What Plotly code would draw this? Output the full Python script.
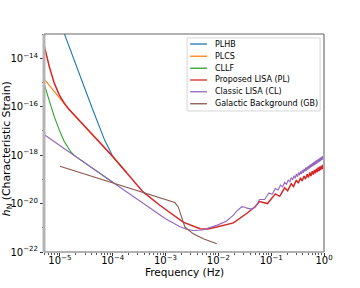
import plotly.graph_objects as go

# ---------------- data (frequency in Hz, strain given as log10 exponents) -------------
series_names = ["PLHB", "PLCS", "CLLF", "Proposed LISA (PL)", "Classic LISA (CL)",
                "Galactic Background (GB)"]
series_colors = ["#1f77b4", "#ff7f0e", "#2ca02c", "#d62728", "#9467bd", "#8c564b"]

plhb_freq = [1.0e-5, 1.216e-5, 2.35e-5, 4.21e-5, 7.03e-5, 9.4e-5, 1.01e-4, 1.81e-4]
plhb_exp = [-12.5, -13.0, -14.62, -16.14, -17.38, -17.98, -18.07, -18.70]

plcs_freq = [5e-6, 1.469e-5, 1.01e-4, 1.81e-4]
plcs_exp = [-14.85, -16.10, -18.07, -18.70]

cllf_freq = [5e-6, 6.31e-6, 7.85e-6, 9.77e-6, 1.216e-5, 1.63e-5, 1.89e-5, 1.0e-4]
cllf_exp = [-15.05, -15.8, -16.42, -16.97, -17.45, -17.88, -18.02, -19.12]

pl_freq = [5e-6, 6.31e-6, 7.85e-6, 9.77e-6, 1.216e-5, 1.469e-5, 1.01e-4, 1.81e-4,
           3.75e-4, 7.8e-4, 1.05e-3, 1.87e-3, 2.16e-3, 4.49e-3, 6.3e-3, 9.33e-3,
           0.0193, 0.0347, 0.050,
           0.06, 0.085, 0.12, 0.145, 0.18, 0.205, 0.24, 0.265, 0.30, 0.325, 0.36, 0.385,
           0.42, 0.445, 0.48, 0.505, 0.54, 0.565, 0.60, 0.625, 0.66, 0.685, 0.72, 0.745,
           0.78, 0.805, 0.84, 0.865, 0.90, 0.925, 0.96, 0.985, 1.0]
pl_exp = [-13.45, -14.35, -15.04, -15.52, -15.86, -16.10, -18.07, -18.70,
          -19.52, -20.07, -20.28, -20.65, -20.77, -21.04, -21.05, -20.97,
          -20.80, -20.40, -20.12,
          -19.92, -20.0, -19.6, -19.7, -19.35, -19.47, -19.18, -19.3, -19.03, -19.16,
          -18.94, -19.07, -18.86, -18.99, -18.79, -18.92, -18.72, -18.86, -18.66, -18.80,
          -18.61, -18.75, -18.56, -18.70, -18.51, -18.66, -18.47, -18.62, -18.43, -18.58,
          -18.39, -18.54, -18.50]

cl_freq = [5e-6, 1e-5, 1e-4, 1e-3, 1.87e-3, 2.5e-3, 3.35e-3, 5e-3, 7e-3, 9.3e-3,
           0.0141, 0.0168, 0.0193, 0.0224, 0.0257, 0.0279, 0.0316, 0.0347, 0.0432,
           0.050, 0.0575,
           0.06, 0.075, 0.09, 0.105, 0.12, 0.135, 0.15, 0.165, 0.18, 0.195, 0.21, 0.225,
           0.24, 0.255, 0.27, 0.285, 0.30, 0.315, 0.33, 0.345, 0.36, 0.375, 0.39, 0.405,
           0.42, 0.435, 0.45, 0.465, 0.48, 0.495, 0.51, 0.525, 0.54, 0.555, 0.57, 0.585,
           0.60, 0.615, 0.63, 0.645, 0.66, 0.675, 0.69, 0.705, 0.72, 0.735, 0.75, 0.765,
           0.78, 0.795, 0.81, 0.825, 0.84, 0.855, 0.87, 0.885, 0.90, 0.915, 0.93, 0.945,
           0.96, 0.975, 0.99, 1.0]
cl_exp = [-17.15, -17.60, -19.12, -20.63, -20.96, -21.06, -21.11, -21.09, -21.0, -20.90,
          -20.73, -20.58, -20.48, -20.30, -20.17, -20.13, -20.15, -20.19, -20.23,
          -20.15, -19.92,
          -19.83, -19.83, -19.57, -19.61, -19.38, -19.44, -19.24, -19.31, -19.12, -19.21,
          -19.02, -19.11, -18.93, -19.03, -18.85, -18.96, -18.78, -18.89, -18.72, -18.83,
          -18.67, -18.78, -18.61, -18.73, -18.57, -18.68, -18.52, -18.64, -18.48, -18.60,
          -18.44, -18.56, -18.40, -18.52, -18.37, -18.49, -18.33, -18.46, -18.30, -18.43,
          -18.27, -18.40, -18.24, -18.37, -18.21, -18.34, -18.19, -18.31, -18.16, -18.29,
          -18.14, -18.27, -18.11, -18.24, -18.09, -18.22, -18.07, -18.20, -18.05, -18.18,
          -18.03, -18.16, -18.01, -18.10]

gb_freq = [1e-5, 1e-4, 1.05e-3, 1.39e-3, 1.50e-3, 1.74e-3, 2.01e-3, 2.33e-3, 3.35e-3,
           5.19e-3, 9.33e-3]
gb_exp = [-18.46, -19.15, -19.85, -19.93, -19.96, -20.14, -20.56, -20.97, -21.25,
          -21.45, -21.66]

x_tick_vals = [1e-5, 1e-4, 1e-3, 1e-2, 1e-1, 1]
x_tick_text = ["10<sup>\u22125</sup>", "10<sup>\u22124</sup>", "10<sup>\u22123</sup>",
               "10<sup>\u22122</sup>", "10<sup>\u22121</sup>", "10<sup>0</sup>"]
y_tick_vals = [1e-22, 1e-20, 1e-18, 1e-16, 1e-14]
y_tick_text = ["10<sup>\u221222</sup>", "10<sup>\u221220</sup>", "10<sup>\u221218</sup>",
               "10<sup>\u221216</sup>", "10<sup>\u221214</sup>"]
x_title = "Frequency (Hz)"
y_title = "<i>h</i><sub>N</sub> (Characteristic Strain)"

# ---------------- figure ----------------
all_freq = [plhb_freq, plcs_freq, cllf_freq, pl_freq, cl_freq, gb_freq]
all_exp = [plhb_exp, plcs_exp, cllf_exp, pl_exp, cl_exp, gb_exp]
widths = [1.1, 1.1, 1.1, 1.5, 1.1, 1.1]

fig = go.Figure()
for name, f, e, c, w in zip(series_names, all_freq, all_exp, series_colors, widths):
    fig.add_trace(go.Scatter(x=f, y=[10 ** v for v in e], mode="lines", name=name,
                             line=dict(color=c, width=w), showlegend=False))

fig.update_layout(
    width=360, height=288,
    margin=dict(l=44, r=36, t=34, b=36),
    paper_bgcolor="white", plot_bgcolor="white",
    font=dict(family="DejaVu Sans", size=10, color="black"),
)
fig.update_xaxes(
    type="log", range=[-5.301, 0], tickmode="array", tickvals=x_tick_vals,
    ticktext=x_tick_text, ticks="outside", ticklen=3, tickcolor="#333",
    showgrid=False, zeroline=False, showline=False, tickfont=dict(size=10),
    automargin=False, ticklabelstandoff=-4,
    minor=dict(ticks="outside", ticklen=1.5, tickcolor="#555", dtick="D1", showgrid=False),
)
fig.update_yaxes(
    type="log", range=[-22, -13], tickmode="array", tickvals=y_tick_vals,
    ticktext=y_tick_text, ticks="outside", ticklen=3, tickcolor="#333",
    showgrid=False, zeroline=False, showline=False, tickfont=dict(size=10),
    automargin=False,
    minor=dict(ticks="outside", ticklen=1.5, tickcolor="#555", dtick=1, showgrid=False),
)

shapes = [
    dict(type="line", xref="paper", yref="paper", x0=0, x1=0, y0=0, y1=1,
         line=dict(color="#b4b4b4", width=3)),
    dict(type="line", xref="paper", yref="paper", x0=1, x1=1, y0=0, y1=1,
         line=dict(color="#aaaaaa", width=2)),
    dict(type="line", xref="paper", yref="paper", x0=0, x1=1, y0=1, y1=1,
         line=dict(color="#666666", width=1)),
    dict(type="line", xref="paper", yref="paper", x0=0, x1=1, y0=0, y1=0,
         line=dict(color="#999999", width=1.5)),
]

annotations = [
    dict(x=0.5, y=-0.092, xref="paper", yref="paper", text=x_title, showarrow=False,
         xanchor="center", yanchor="middle", font=dict(size=10.5)),
    dict(x=-0.132, y=0.472, xref="paper", yref="paper", text=y_title, showarrow=False,
         textangle=-90, xanchor="center", yanchor="middle", font=dict(size=10.8)),
]

# legend box (drawn manually to match compact matplotlib legend)
lx0, lx1, ly0, ly1 = 0.511, 0.986, 0.647, 0.982
shapes.append(dict(type="rect", xref="paper", yref="paper", x0=lx0, x1=lx1, y0=ly0, y1=ly1,
                   fillcolor="white", line=dict(color="#d6d6d6", width=1), layer="above"))
item_y = [0.954, 0.898, 0.843, 0.789, 0.735, 0.680]
for name, c, yy in zip(series_names, series_colors, item_y):
    shapes.append(dict(type="line", xref="paper", yref="paper", x0=0.522, x1=0.582,
                       y0=yy, y1=yy, line=dict(color=c, width=1.3), layer="above"))
    annotations.append(dict(x=0.603, y=yy, xref="paper", yref="paper", text=name,
                            showarrow=False, xanchor="left", yanchor="middle",
                            font=dict(size=8, color="black")))
fig.update_layout(shapes=shapes, annotations=annotations)

fig.write_html("out.html", config={"displayModeBar": False},
               post_script="document.body.style.margin='0';")
